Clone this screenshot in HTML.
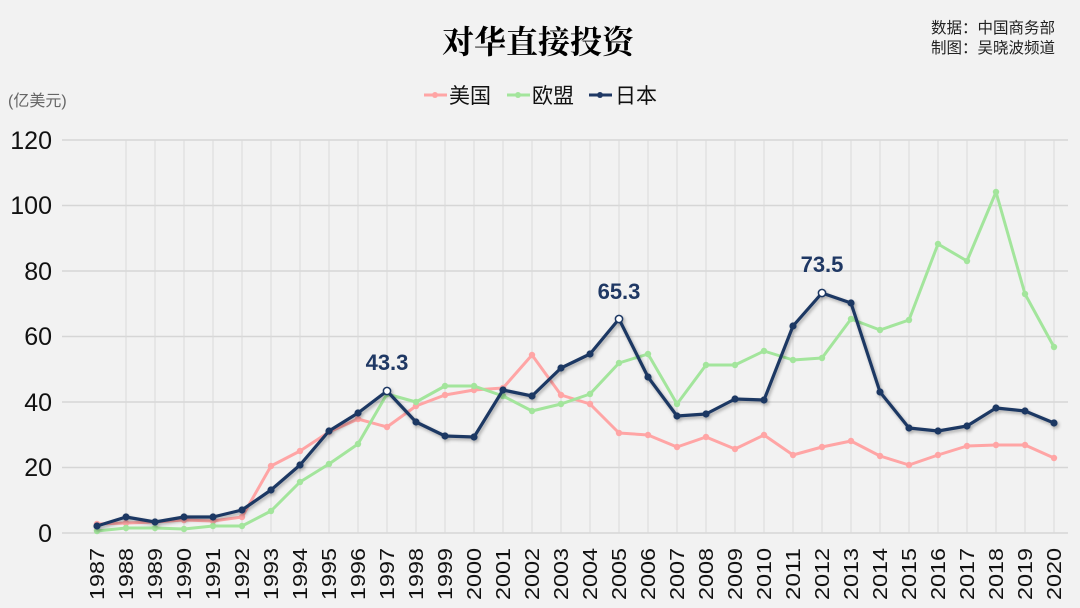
<!DOCTYPE html>
<html><head><meta charset="utf-8"><style>
html,body{margin:0;padding:0;background:#f2f2f2;}
svg{display:block;}
</style></head><body>
<svg width="1080" height="608" viewBox="0 0 1080 608" xmlns="http://www.w3.org/2000/svg">
<rect width="1080" height="608" fill="#f2f2f2"/>
<defs><filter id="sh" x="-5%" y="-5%" width="110%" height="110%"><feDropShadow dx="1.5" dy="2" stdDeviation="1.5" flood-color="#000" flood-opacity="0.3"/></filter></defs>
<text x="538" y="53" text-anchor="middle" font-family="'Noto Serif CJK SC',serif" font-weight="bold" font-size="32" fill="#000">对华直接投资</text>
<text x="1055" y="33" text-anchor="end" font-family="'Liberation Sans','Noto Sans CJK SC',sans-serif" font-size="15.5" fill="#222">数据：中国商务部</text>
<text x="1055" y="53" text-anchor="end" font-family="'Liberation Sans','Noto Sans CJK SC',sans-serif" font-size="15.5" fill="#222">制图：吴晓波频道</text>
<text x="8" y="106" font-family="'Liberation Sans','Noto Sans CJK SC',sans-serif" font-size="16" fill="#666">(亿美元)</text>
<g font-family="'Liberation Sans','Noto Sans CJK SC',sans-serif" font-size="21" fill="#111">
<line x1="424" y1="95" x2="447" y2="95" stroke="#ffa5a5" stroke-width="3"/><circle cx="435" cy="95" r="3" fill="#ffa5a5"/>
<text x="449" y="103">美国</text>
<line x1="507" y1="95" x2="530" y2="95" stroke="#a3e59c" stroke-width="3"/><circle cx="518" cy="95" r="3" fill="#a3e59c"/>
<text x="532" y="103">欧盟</text>
<line x1="589" y1="95" x2="612" y2="95" stroke="#1f3864" stroke-width="3"/><circle cx="600" cy="95" r="3" fill="#1f3864"/>
<text x="615" y="103">日本</text>
</g>
<g id="grid" stroke="#d6d6d6" stroke-width="1.5"></g>
<g id="vgrid" stroke="#d9d9d9" stroke-width="1"></g>
<g font-family="'Liberation Sans Narrow','Liberation Sans',sans-serif" font-size="25" fill="#111" text-anchor="end">
<text x="52" y="542">0</text><text x="52" y="476">20</text><text x="52" y="411">40</text><text x="52" y="345">60</text><text x="52" y="280">80</text><text x="52" y="214">100</text><text x="52" y="149">120</text>
</g>
<g id="xl" font-family="'Liberation Sans',sans-serif" font-size="20" fill="#111"></g>
<g id="series"></g>
<g font-family="'Liberation Sans','Noto Sans CJK SC',sans-serif" font-weight="bold" font-size="22" fill="#1f3864" text-anchor="middle">
<text x="387" y="370">43.3</text><text x="619" y="299">65.3</text><text x="822" y="272">73.5</text>
</g>
<script>
var NS="http://www.w3.org/2000/svg";
function el(t,a,p){var e=document.createElementNS(NS,t);for(var k in a)e.setAttribute(k,a[k]);p.appendChild(e);return e;}
var g=document.getElementById('grid');
[533,467.5,402,336.5,271,205.5,140].forEach(function(y){el('line',{x1:62,x2:1068,y1:y,y2:y},g);});
var vg=document.getElementById('vgrid'),xl=document.getElementById('xl');
var xs=[];for(var i=0;i<34;i++)xs.push(97+29*i);
xs.forEach(function(x,i){ if(i>0) el('line',{x1:x,x2:x,y1:140,y2:533},vg);
 var t=el('text',{transform:'translate('+(x+7)+',600) rotate(-90)',textLength:52,lengthAdjust:'spacingAndGlyphs'},xl);t.textContent=1987+i;});
var us=[524,523,522,520,521,517,466,451,432,419,427,406,395,390,388,355,395,404,433,435,447,437,449,435,455,447,441,456,465,455,446,445,445,458];
var eu=[531,528,528,529,526,526,511,482,464,444,394,402,386,386,396,411,404,394,363,354,404,365,365,351,360,358,319,330,320,244,261,192,294,347];
var jp=[526,517,522,517,517,510,490,465,431,413,391,422,436,437,390,396,368,354,319,377,416,414,399,400,326,293,303,392,428,431,426,408,411,423];
var s=document.getElementById('series');
function draw(d,c,w,r,sh){var gg=el('g',sh?{filter:'url(#sh)'}:{},s);
 el('polyline',{points:d.map(function(y,i){return xs[i]+','+y;}).join(' '),fill:'none',stroke:c,'stroke-width':w,'stroke-linejoin':'round'},gg);
 d.forEach(function(y,i){var open=sh&&(i==10||i==18||i==25);
  el('circle',{cx:xs[i],cy:y,r:r,fill:open?'#fff':c,stroke:c,'stroke-width':open?1.5:0},gg);});}
draw(us,'#ffa5a5',3,3.2,false);
draw(eu,'#a3e59c',3,3.2,false);
draw(jp,'#1f3864',3.2,3.6,true);
</script>
</svg>
</body></html>
